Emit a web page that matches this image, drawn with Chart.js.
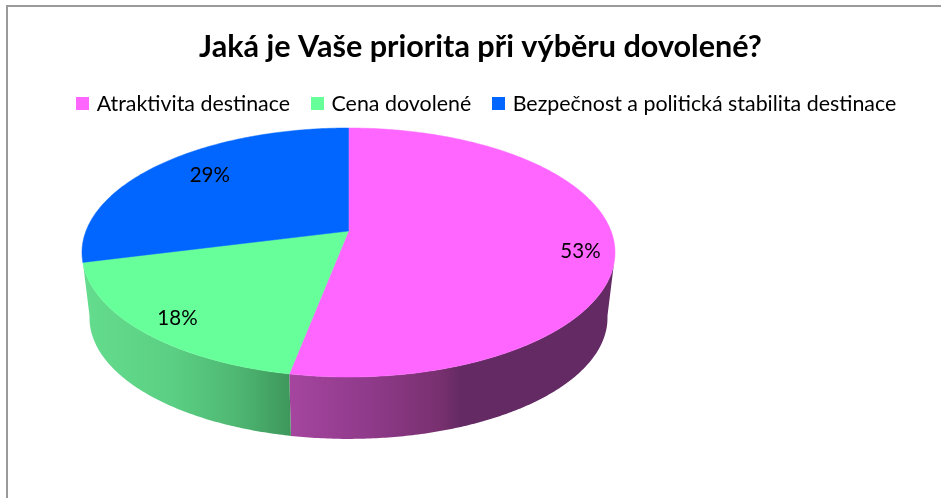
<!DOCTYPE html>
<html lang="cs">
<head>
<meta charset="utf-8">
<title>Jaká je Vaše priorita při výběru dovolené?</title>
<script src="https://cdn.jsdelivr.net/npm/chart.js@4"></script>
<style>
html,body{margin:0;padding:0;background:#fff;width:941px;height:498px;overflow:hidden}
#frame{position:absolute;left:6px;top:5px;right:0;bottom:0;border-left:2px solid #9a9a9a;border-top:2px solid #9a9a9a}
#wrap{position:absolute;left:0;top:0;width:941px;height:498px}
</style>
</head>
<body>
<div id="frame"></div>
<div id="wrap"><canvas id="c" width="941" height="498"></canvas></div>
<script>
const categories = ["Atraktivita destinace", "Cena dovolené", "Bezpečnost a politická stabilita destinace"];
const shares = [53, 18, 29];
const sliceColors = ["#FF66FF", "#66FF99", "#0066FF"];
const titleText = "Jaká je Vaše priorita při výběru dovolené?";

const FONT = "Lato, 'Liberation Sans', sans-serif";
const LEGEND_SIZE = 21.4;

// Perspective view of the pie disc
const view = {cx: 348.5, top: {cy: 231, R: 262.5, S: 120.8}, bottom: {cy: 297, R: 255.1, S: 117.4}, k: -0.1727};
function project(a, f, face) {
  const u = Math.cos(a) * f, v = Math.sin(a) * f, w = 1 + view.k * v;
  return [view.cx + face.R * u / w, face.cy + face.S * v / w];
}
function trace(ctx, from, to, face, first) {
  const n = Math.max(2, Math.ceil(Math.abs(to - from) / 0.01));
  for (let i = 0; i <= n; i++) {
    const p = project(from + (to - from) * i / n, 1, face);
    if (i === 0 && first) ctx.moveTo(p[0], p[1]); else ctx.lineTo(p[0], p[1]);
  }
}
const FRONT_TOP = [15 * Math.PI / 180, 165 * Math.PI / 180];
const FRONT_BOTTOM = [9 * Math.PI / 180, 171 * Math.PI / 180];
const sideStops = [
  [[289, "#a5459f"], [370, "#8f3a8a"], [440, "#78306f"], [462, "#632a63"], [620, "#632a63"]],
  [[84, "#64dc8d"], [170, "#5bd084"], [235, "#4fb873"], [289, "#3e985c"]],
  [[84, "#003d99"], [348, "#003d99"]]
];
// where each percentage sits, as fractions of the projected radius (x, y)
const labelFractions = [[0.875, 1.75], [0.85, 0.88], [0.72, 0.815]];

const pie3d = {
  id: "pie3d",
  afterLayout(chart) {
    chart.titleBlock.left += 20;
    chart.legend.left += 34;
  },
  beforeDatasetsDraw(chart) {
    const ctx = chart.ctx, arcs = chart.getDatasetMeta(0).data;
    arcs.forEach((el, i) => {
      const sT = Math.max(el.startAngle, FRONT_TOP[0]), eT = Math.min(el.endAngle, FRONT_TOP[1]);
      if (eT <= sT) return;
      const sB = el.startAngle <= FRONT_TOP[0] ? FRONT_BOTTOM[0] : sT;
      const eB = el.endAngle >= FRONT_TOP[1] ? FRONT_BOTTOM[1] : eT;
      const stops = sideStops[i], x0 = stops[0][0], x1 = stops[stops.length - 1][0];
      const g = ctx.createLinearGradient(x0, 0, x1, 0);
      stops.forEach(s => g.addColorStop((s[0] - x0) / (x1 - x0), s[1]));
      ctx.beginPath();
      trace(ctx, sT, eT, view.top, true);
      trace(ctx, eB, sB, view.bottom, false);
      ctx.closePath();
      ctx.fillStyle = g;
      ctx.fill();
    });
    arcs.forEach((el, i) => {
      const c = project(0, 0, view.top);
      ctx.beginPath();
      ctx.moveTo(c[0], c[1]);
      trace(ctx, el.startAngle, el.endAngle, view.top, false);
      ctx.closePath();
      ctx.fillStyle = sliceColors[i];
      ctx.fill();
      ctx.strokeStyle = sliceColors[i];
      ctx.lineWidth = 0.5;
      ctx.stroke();
    });
    ctx.save();
    ctx.fillStyle = "#000";
    ctx.font = "20.5px " + FONT;
    ctx.textAlign = "center";
    ctx.textBaseline = "middle";
    arcs.forEach((el, i) => {
      const mid = (el.startAngle + el.endAngle) / 2;
      const px = project(mid, labelFractions[i][0], view.top)[0];
      const py = project(mid, labelFractions[i][1], view.top)[1];
      ctx.fillText(shares[i] + "%", px, py);
    });
    ctx.restore();
    return false;
  }
};

function swatch(color) {
  const s = document.createElement("canvas");
  s.width = 13; s.height = 13;
  const g = s.getContext("2d");
  g.fillStyle = color;
  g.fillRect(0, 0, 13, 13);
  return s;
}

new Chart(document.getElementById("c"), {
  type: "pie",
  data: {
    labels: categories,
    datasets: [{data: shares, backgroundColor: sliceColors, borderWidth: 0}]
  },
  options: {
    responsive: false,
    animation: false,
    layout: {padding: {top: 0}},
    plugins: {
      tooltip: {enabled: false},
      title: {
        display: true,
        text: titleText,
        color: "#000",
        font: {family: FONT, size: 30.6, weight: "bold"},
        padding: {top: 29, bottom: 4}
      },
      legend: {
        display: true,
        position: "top",
        padding: 0,
        labels: {
          color: "#000",
          font: {family: FONT, size: LEGEND_SIZE},
          usePointStyle: true,
          boxWidth: 18 - LEGEND_SIZE / 2,
          boxHeight: 13,
          padding: 23.5,
          generateLabels: chart => chart.data.labels.map((t, i) => ({
            text: t,
            fillStyle: sliceColors[i],
            strokeStyle: sliceColors[i],
            lineWidth: 0,
            pointStyle: swatch(sliceColors[i]),
            index: i,
            hidden: false
          }))
        }
      }
    }
  },
  plugins: [pie3d]
});
</script>
</body>
</html>
